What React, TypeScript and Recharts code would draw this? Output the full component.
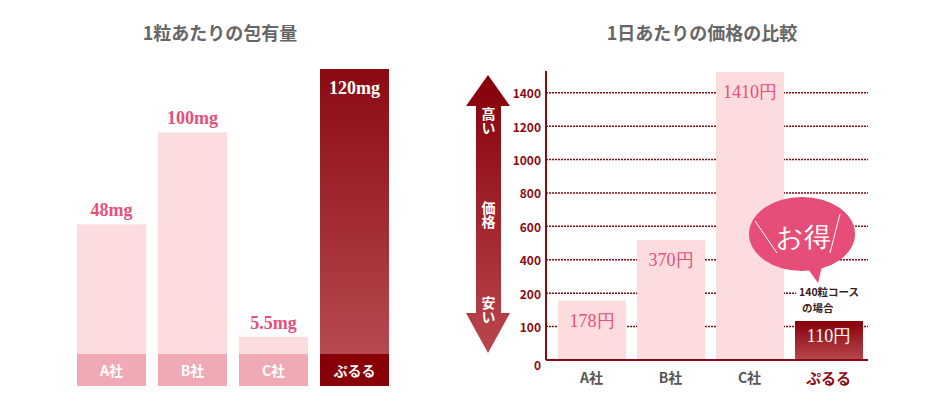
import React from 'react';
import { BarChart, Bar, XAxis, YAxis, CartesianGrid, LabelList, Cell } from 'recharts';

// ---------- data ----------
const categories = ['A社', 'B社', 'C社', 'ぷるる'];

// left chart: content per grain (mg) and drawn bar heights (relative, ぷるる = 100)
const contentMg = ['48mg', '100mg', '5.5mg', '120mg'];
const contentBarHeights = [51, 80, 15.5, 100];

// right chart: price per day (yen) and drawn bar heights on the price axis (yen)
const priceLabels = ['178円', '370円', '1410円', '110円'];
const priceBarHeights = [178, 518, 1524, 117];
const priceTicks = [0, 100, 200, 400, 600, 800, 1000, 1200, 1400];

const leftTitle = '1粒あたりの包有量';
const rightTitle = '1日あたりの価格の比較';
const arrowWords = ['高い', '価格', '安い'];
const bubbleText = 'お得';
const courseNote = ['140粒コース', 'の場合'];

// ---------- helpers ----------
const priceToAxis = (p: number) => {
  for (let i = 0; i < priceTicks.length - 1; i++) {
    if (p <= priceTicks[i + 1]) {
      return i + (p - priceTicks[i]) / (priceTicks[i + 1] - priceTicks[i]);
    }
  }
  const n = priceTicks.length - 1;
  const step = priceTicks[n] - priceTicks[n - 1];
  return n + (p - priceTicks[n]) / step;
};

const contentData = categories.map((name, i) => ({
  name,
  value: contentBarHeights[i],
  label: contentMg[i],
}));

const priceData = categories.map((name, i) => ({
  name,
  value: priceToAxis(priceBarHeights[i]),
  label: priceLabels[i],
}));

const HIGHLIGHT = 'ぷるる';
const DARK = '#8b0a12';
const PINK_TEXT = '#e6507a';
const PALE = '#fddcde';
const BAND = '#f0aab5';
const SANS = '"Noto Sans CJK JP", "Noto Sans", sans-serif';
const SERIF = '"Liberation Serif", "DejaVu Serif", serif';

// ---------- left chart parts ----------
const ContentShape = (props: any) => {
  const { x, y, width, height, payload } = props;
  const hi = payload.name === HIGHLIGHT;
  const band = 32;
  return (
    <g>
      <defs>
        <linearGradient id="gradLeft" x1="0" y1="0" x2="0" y2="1">
          <stop offset="0%" stopColor="#8b0a12" />
          <stop offset="100%" stopColor="#bc5057" />
        </linearGradient>
      </defs>
      <rect x={x} y={y} width={width} height={height} fill={hi ? 'url(#gradLeft)' : PALE} />
      <rect x={x} y={y + height - band} width={width} height={band} fill={hi ? '#870007' : BAND} />
      <text
        x={x + width / 2}
        y={y + height - band / 2}
        textAnchor="middle"
        dominantBaseline="central"
        fill="#fff"
        fontSize={14}
        fontWeight={700}
        fontFamily={SANS}
      >
        {payload.name}
      </text>
    </g>
  );
};

const ContentLabel = (props: any) => {
  const { x, y, width, value, index } = props;
  const hi = categories[index] === HIGHLIGHT;
  return (
    <text
      x={x + width / 2}
      y={hi ? y + 19 : y - 14}
      textAnchor="middle"
      dominantBaseline="central"
      fill={hi ? '#fff' : PINK_TEXT}
      fontSize={18}
      fontWeight={700}
      fontFamily={SERIF}
    >
      {value}
    </text>
  );
};

// ---------- right chart parts ----------
const PriceYTick = (props: any) => {
  const { x, y, payload } = props;
  const v = payload.value;
  return (
    <text
      x={x}
      y={v === 0 ? y + 4 : y}
      textAnchor="end"
      dominantBaseline="central"
      fill={DARK}
      fontSize={12}
      fontWeight={700}
      fontFamily={SANS}
    >
      {priceTicks[v]}
    </text>
  );
};

const PriceXTick = (props: any) => {
  const { x, y, payload } = props;
  const hi = payload.value === HIGHLIGHT;
  return (
    <text
      x={x}
      y={y + 17}
      textAnchor="middle"
      dominantBaseline="central"
      fill={hi ? DARK : '#555'}
      fontSize={hi ? 15 : 14}
      fontWeight={700}
      fontFamily={SANS}
    >
      {payload.value}
    </text>
  );
};

const PriceLabel = (props: any) => {
  const { x, y, width, value, index } = props;
  const hi = categories[index] === HIGHLIGHT;
  return (
    <text
      x={x + width / 2}
      y={hi ? y + 15 : y + 20}
      textAnchor="middle"
      dominantBaseline="central"
      fill={hi ? '#fff' : PINK_TEXT}
      fontSize={18}
      fontFamily={SERIF}
    >
      {value}
    </text>
  );
};

// ---------- overlay ----------
const Overlay = () => (
  <svg
    width={940}
    height={408}
    style={{ position: 'absolute', left: 0, top: 0, pointerEvents: 'none' }}
  >
    <defs>
      <linearGradient id="gradArrow" x1="0" y1="0" x2="0" y2="1">
        <stop offset="0%" stopColor="#860008" />
        <stop offset="100%" stopColor="#b9474f" />
      </linearGradient>
    </defs>
    <text x={220} y={32} textAnchor="middle" dominantBaseline="central" fill="#666" fontSize={18} fontWeight={700} fontFamily={SANS}>
      {leftTitle}
    </text>
    <text x={702} y={32} textAnchor="middle" dominantBaseline="central" fill="#666" fontSize={18} fontWeight={700} fontFamily={SANS}>
      {rightTitle}
    </text>

    {/* price arrow */}
    <polygon
      points="488,75 510,106 501,106 501,313 510,313 488,353 466,313 476,313 476,106 466,106"
      fill="url(#gradArrow)"
    />
    {[
      [arrowWords[0], 121],
      [arrowWords[1], 215],
      [arrowWords[2], 310],
    ].map(([w, cy]) => (
      <text
        key={w as string}
        x={488.5}
        y={cy as number}
        textAnchor="middle"
        style={{ writingMode: 'vertical-rl' }}
        fill="#fff"
        fontSize={14}
        fontWeight={700}
        fontFamily={SANS}
      >
        {w}
      </text>
    ))}

    {/* bubble */}
    <polygon points="803,262 824,258 818,283" fill="#e64e78" />
    <ellipse cx={802} cy={234} rx={53} ry={37} fill="#e64e78" />
    <line x1={755} y1={221} x2={777} y2={253} stroke="#fff" strokeWidth={1} />
    <line x1={840} y1={214} x2={830} y2={253} stroke="#fff" strokeWidth={1} />
    <text x={803} y={237} textAnchor="middle" dominantBaseline="central" fill="#fff" fontSize={27} fontFamily={SERIF}>
      {bubbleText}
    </text>

    {/* course note */}
    <rect x={796} y={283} width={74} height={31} fill="#fff" />
    <text x={799} y={291} dominantBaseline="central" fill="#3a1c1c" fontSize={10.5} fontWeight={700} fontFamily={SANS}>
      {courseNote[0]}
    </text>
    <text x={802} y={307} dominantBaseline="central" fill="#3a1c1c" fontSize={10.5} fontWeight={700} fontFamily={SANS}>
      {courseNote[1]}
    </text>
  </svg>
);

export default function App() {
  return (
    <div style={{ position: 'absolute', left: 0, top: 0, width: 940, height: 408, background: '#fff' }}>
      <div style={{ position: 'absolute', left: 0, top: 0 }}>
        <BarChart width={470} height={408} data={contentData} margin={{ top: 69, right: 75, bottom: 22, left: 71 }}>
          <XAxis dataKey="name" hide />
          <YAxis hide domain={[0, 100]} />
          <Bar dataKey="value" barSize={69} shape={ContentShape} isAnimationActive={false}>
            <LabelList dataKey="label" content={ContentLabel} />
          </Bar>
        </BarChart>
      </div>
      <div style={{ position: 'absolute', left: 470, top: 0 }}>
        <BarChart width={470} height={408} data={priceData} margin={{ top: 71, right: 72, bottom: 18, left: 16 }}>
          <defs>
            <linearGradient id="gradRight" x1="0" y1="0" x2="0" y2="1">
              <stop offset="0%" stopColor="#860008" />
              <stop offset="100%" stopColor="#b9474f" />
            </linearGradient>
          </defs>
          <CartesianGrid
            horizontal
            vertical={false}
            syncWithTicks
            stroke={DARK}
            strokeWidth={1.5}
            strokeDasharray="2 1"
          />
          <XAxis
            dataKey="name"
            height={30}
            tickLine={false}
            tickSize={0}
            tickMargin={0}
            padding={{ left: 6, right: 0 }}
            axisLine={{ stroke: DARK, strokeWidth: 2 }}
            tick={PriceXTick}
            interval={0}
          />
          <YAxis
            type="number"
            width={60}
            domain={[0, 8.65]}
            ticks={[0, 1, 2, 3, 4, 5, 6, 7, 8]}
            allowDataOverflow
            tickLine={false}
            tickSize={3}
            tickMargin={2}
            axisLine={{ stroke: DARK, strokeWidth: 2 }}
            tick={PriceYTick}
            interval={0}
          />
          <Bar dataKey="value" barSize={68} isAnimationActive={false}>
            {priceData.map((d) => (
              <Cell key={d.name} fill={d.name === HIGHLIGHT ? 'url(#gradRight)' : PALE} />
            ))}
            <LabelList dataKey="label" content={PriceLabel} />
          </Bar>
        </BarChart>
      </div>
      <Overlay />
    </div>
  );
}
